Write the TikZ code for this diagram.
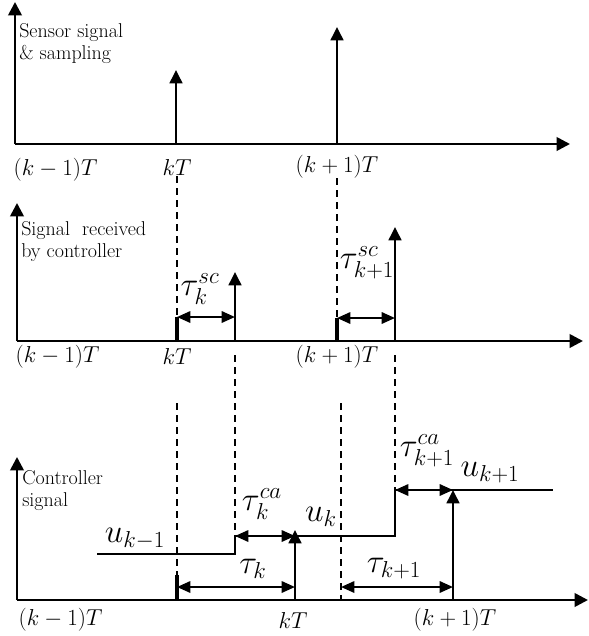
\documentclass[tikz,border=0pt]{standalone}
\usepackage{amsmath,amssymb}
\usepackage{tikz}
\usetikzlibrary{positioning,arrows.meta}

\tikzset{
  axisline/.style={line width=2pt, -{Triangle[length=10pt,width=10pt]}},
  pulse/.style={line width=1.9pt, -{Triangle[length=10pt,width=9.5pt]}},
  delay/.style={line width=1.7pt, {Triangle[length=10pt,width=8.5pt]}-{Triangle[length=10pt,width=8.5pt]}},
  guide/.style={line width=1pt, dash pattern=on 5.5pt off 3.5pt},
  stub/.style={line width=3pt},
  signal/.style={line width=1.2pt},
  tlabel/.style={font=\fontsize{16.5}{19}\selectfont, inner sep=1pt},
  dlabel/.style={font=\fontsize{23}{27}\selectfont, inner sep=1pt},
  caption/.style={font=\fontsize{15}{17}\selectfont, align=left, anchor=north west, inner sep=0pt}
}

\begin{document}
\begin{tikzpicture}[x=0.75pt, y=-0.75pt]
  \useasboundingbox (0,0) rectangle (589,636);

  % sensor side
  \coordinate (o1) at (15,144);
  \coordinate (y1) at (15,2);
  \coordinate (x1) at (570,144);
  \coordinate (s1) at (176,144);
  \coordinate (s1top) at (176,70);
  \coordinate (s2) at (337,144);
  \coordinate (s2top) at (337,27);
  \draw[axisline] (o1) -- (x1);
  \draw[axisline] (o1) -- (y1);
  \draw[pulse] (s1) -- (s1top);
  \draw[pulse] (s2) -- (s2top);
  \node[caption] (cap1) at (19,23) {Sensor signal\\\& sampling};
  \node[tlabel, anchor=west] (t1a) at (12,170) {$(k-1)T$};
  \node[tlabel] (t1b) at (177,167) {$kT$};
  \node[tlabel] (t1c) at (337,167) {$(k+1)T$};

  % controller side
  \coordinate (o2) at (17,341);
  \coordinate (y2) at (17,203);
  \coordinate (x2) at (583,341);
  \coordinate (r1) at (235,341);
  \coordinate (r1top) at (235,272);
  \coordinate (r2) at (395,341);
  \coordinate (r2top) at (395,227);
  \coordinate (b1) at (177,341);
  \coordinate (b1top) at (177,317);
  \coordinate (b2) at (337,341);
  \coordinate (b2top) at (337,318);
  \coordinate (g1) at (177,176);
  \coordinate (g2) at (337,178);
  \draw[axisline] (o2) -- (x2);
  \draw[axisline] (o2) -- (y2);
  \draw[pulse] (r1) -- (r1top);
  \draw[pulse] (r2) -- (r2top);
  \draw[stub] (b1) -- (b1top);
  \draw[stub] (b2) -- (b2top);
  \draw[guide] (g1) -- (b1top);
  \draw[guide] (g2) -- (b2top);
  \draw[delay] (b1top) -- (b1top -| r1);
  \draw[delay] (b2top) -- (b2top -| r2);
  \node[dlabel] (tsc1) at (200,289) {$\tau_k^{sc}$};
  \node[dlabel] (tsc2) at (367,263) {$\tau_{k+1}^{sc}$};
  \node[caption] (cap2) at (21,221) {Signal\ \ received\\by controller};
  \node[tlabel, anchor=west] (t2a) at (14,357) {$(k-1)T$};
  \node[tlabel] (t2b) at (177,356) {$kT$};
  \node[tlabel] (t2c) at (337,357) {$(k+1)T$};

  % actuator side
  \coordinate (o3) at (17,600);
  \coordinate (y3) at (17,457);
  \coordinate (x3) at (588,600);
  \coordinate (u0) at (97,554);
  \coordinate (u1) at (235,554);
  \coordinate (u2) at (235,536);
  \coordinate (u3) at (395,536);
  \coordinate (u4) at (395,490);
  \coordinate (u5) at (553,490);
  \coordinate (a1) at (295,600);
  \coordinate (a1top) at (295,530);
  \coordinate (a2) at (453,600);
  \coordinate (a2top) at (453,490);
  \coordinate (b3) at (177,600);
  \coordinate (b3top) at (177,575);
  \coordinate (g3) at (235,355);
  \coordinate (g4) at (395,355);
  \coordinate (g5) at (177,403);
  \coordinate (g6) at (341,403);
  \coordinate (g6b) at (341,600);
  \coordinate (dk) at (177,587);
  \coordinate (dk1) at (341,587);
  \draw[axisline] (o3) -- (x3);
  \draw[axisline] (o3) -- (y3);
  \draw[guide] (g3) -- (u2);
  \draw[guide] (g4) -- (u4);
  \draw[guide] (g5) -- (b3top);
  \draw[guide] (g6) -- (g6b);
  \draw[signal] (u0) -- (u1) -- (u2) -- (u3) -- (u4) -- (u5);
  \draw[pulse] (a1) -- (a1top);
  \draw[pulse] (a2) -- (a2top);
  \draw[stub] (b3) -- (b3top);
  \draw[delay] (dk) -- (dk -| a1);
  \draw[delay] (dk1) -- (dk1 -| a2);
  \draw[delay] (u2) -- (u2 -| a1);
  \draw[delay] (u4) -- (a2top);
  \node[dlabel] (uk0) at (135,539) {$u_{k-1}$};
  \node[dlabel] (uk1) at (321,517) {$u_k$};
  \node[dlabel] (uk2) at (490,473) {$u_{k+1}$};
  \node[dlabel] (tca1) at (262,504) {$\tau_k^{ca}$};
  \node[dlabel] (tk1) at (253,569) {$\tau_k$};
  \node[dlabel] (tk2) at (394,569) {$\tau_{k+1}$};
  \node[dlabel] (tca2) at (427,451) {$\tau_{k+1}^{ca}$};
  \node[caption] (cap3) at (22,470) {Controller\\signal};
  \node[tlabel, anchor=west] (t3a) at (17,620) {$(k-1)T$};
  \node[tlabel] (t3b) at (293,620) {$kT$};
  \node[tlabel] (t3c) at (455,620) {$(k+1)T$};
\end{tikzpicture}
\end{document}
